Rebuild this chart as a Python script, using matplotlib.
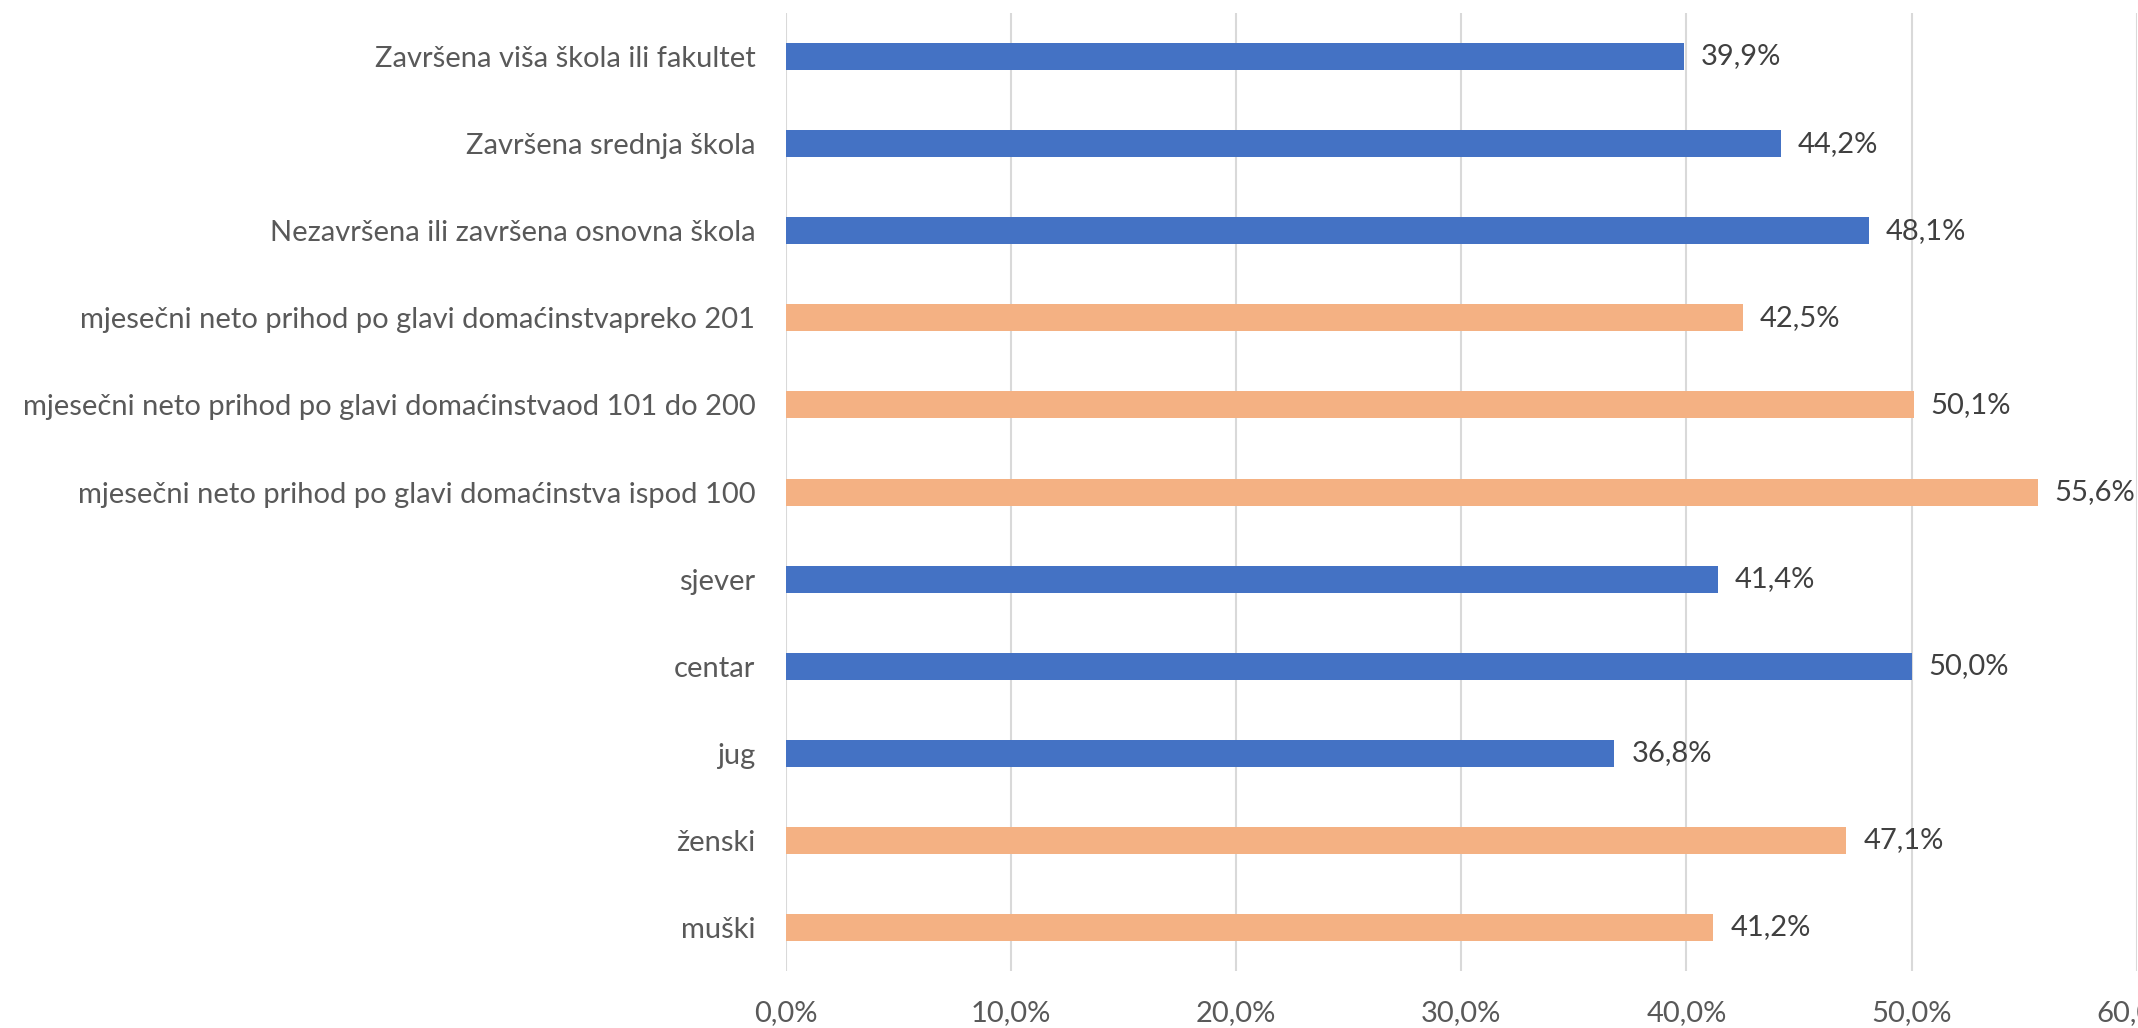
import matplotlib.pyplot as plt
from matplotlib.ticker import FuncFormatter

plt.rcParams['font.family'] = ['Lato', 'DejaVu Sans']

# kategorije odozgo prema dolje
kategorije = [
    'Završena viša škola ili fakultet',
    'Završena srednja škola',
    'Nezavršena ili završena osnovna škola',
    'mjesečni neto prihod po glavi domaćinstvapreko 201',
    'mjesečni neto prihod po glavi domaćinstvaod 101 do 200',
    'mjesečni neto prihod po glavi domaćinstva ispod 100',
    'sjever',
    'centar',
    'jug',
    'ženski',
    'muški',
]
vrijednosti = [39.9, 44.2, 48.1, 42.5, 50.1, 55.6, 41.4, 50.0, 36.8, 47.1, 41.2]
grupe = ['b', 'b', 'b', 'o', 'o', 'o', 'b', 'b', 'b', 'o', 'o']

boje = {'b': '#4472C4', 'o': '#F4B183'}

fig = plt.figure(figsize=(21.38, 10.28), dpi=100)
ax = fig.add_axes([0.3676, 0.0554, 0.6318, 0.932])

y = range(len(kategorije))
ax.barh(y, vrijednosti, height=0.31, color=[boje[g] for g in grupe], zorder=3)

for i, v in enumerate(vrijednosti):
    ax.text(v + 0.75, i, f'{v:.1f}%'.replace('.', ','), va='center', ha='left',
            fontsize=21, color='#404040')

ax.set_yticks(list(y))
ax.set_yticklabels(kategorije, fontsize=21, color='#595959')
ax.set_ylim(len(kategorije) - 0.5, -0.5)

ax.set_xlim(0, 60)
ax.set_xticks(range(0, 61, 10))
ax.xaxis.set_major_formatter(FuncFormatter(lambda x, p: f'{x:.1f}%'.replace('.', ',')))
ax.tick_params(axis='x', labelsize=21, labelcolor='#595959', length=0, pad=21)
ax.tick_params(axis='y', length=0, pad=22)

ax.grid(axis='x', color='#D9D9D9', linewidth=1.5, zorder=0)
for s in ax.spines.values():
    s.set_visible(False)

fig.savefig('out.png', dpi=100)
